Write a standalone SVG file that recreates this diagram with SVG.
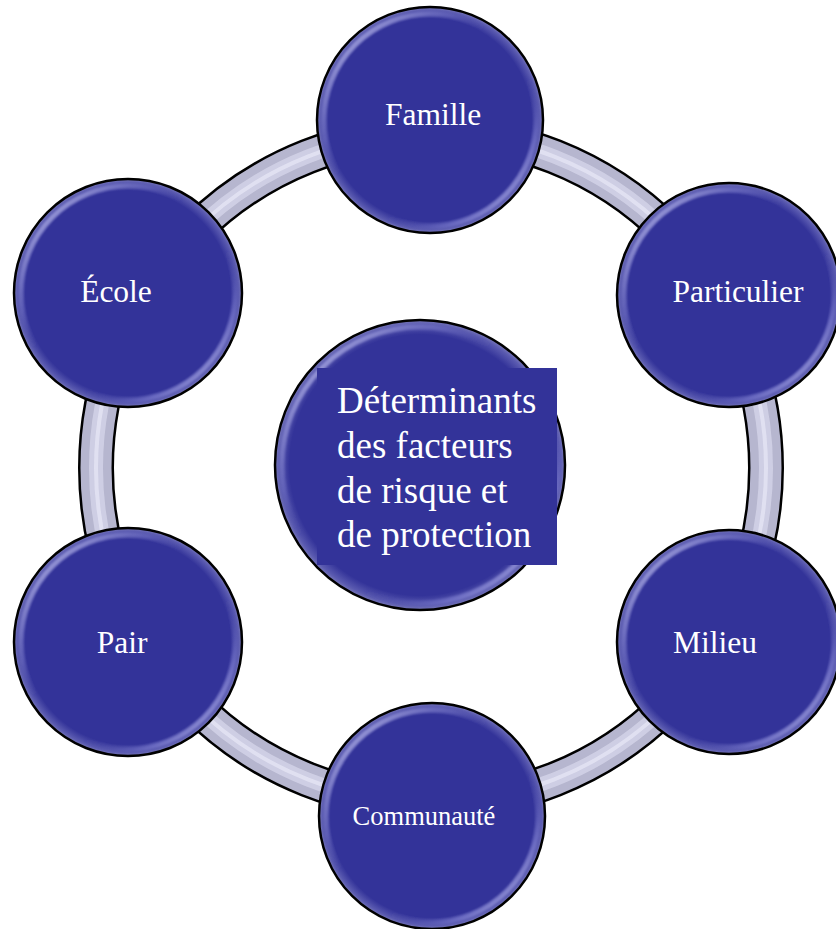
<svg xmlns="http://www.w3.org/2000/svg" width="836" height="929" viewBox="0 0 836 929">
  <defs>
    <linearGradient id="gloss" x1="0" y1="0" x2="1" y2="1">
      <stop offset="0" stop-color="#e0e0ff" stop-opacity="0.95"/>
      <stop offset="0.3" stop-color="#8080d0" stop-opacity="0.35"/>
      <stop offset="0.42" stop-color="#333399" stop-opacity="0"/>
      <stop offset="0.62" stop-color="#333399" stop-opacity="0"/>
      <stop offset="0.8" stop-color="#9090e0" stop-opacity="0.45"/>
      <stop offset="1" stop-color="#f0f0ff" stop-opacity="0.95"/>
    </linearGradient>
    <radialGradient id="face" cx="0.5" cy="0.5" r="0.5">
      <stop offset="0" stop-color="#333399"/>
      <stop offset="0.9" stop-color="#333399"/>
      <stop offset="0.97" stop-color="#5a5ab0"/>
      <stop offset="1" stop-color="#7878b8"/>
    </radialGradient>
    <filter id="soft" x="-10%" y="-10%" width="120%" height="120%">
      <feGaussianBlur stdDeviation="1.2"/>
    </filter>
  </defs>
  <style>
    .node { fill: url(#face); stroke: #000; stroke-width: 2.5; }
    .shine { fill: none; stroke: url(#gloss); stroke-width: 5; filter: url(#soft); }
    .lbl { font-family: "Liberation Serif", "Times New Roman", serif; fill: #fff; font-size: 31.5px; text-anchor: middle; }
    .ctr { font-family: "Liberation Serif", "Times New Roman", serif; fill: #fff; font-size: 37px; }
  </style>
  <rect width="836" height="929" fill="#fff"/>

  <g id="connectors">
    <circle cx="431" cy="468" r="335" fill="none" stroke="#000" stroke-width="36"/>
    <circle cx="431" cy="468" r="335" fill="none" stroke="#b6b6cf" stroke-width="31"/>
    <circle cx="431" cy="468" r="335" fill="none" stroke="#d4d4e8" stroke-width="14" opacity="0.8"/>
    <circle cx="431" cy="468" r="335" fill="none" stroke="#e8e8f6" stroke-width="4" opacity="0.7"/>
  </g>

  <g id="famille">
    <circle class="node" cx="430" cy="120" r="113"/>
    <circle class="shine" cx="430" cy="120" r="106"/>
    <text class="lbl" x="433" y="125">Famille</text>
  </g>
  <g id="particulier">
    <circle class="node" cx="729" cy="295" r="112"/>
    <circle class="shine" cx="729" cy="295" r="105"/>
    <text class="lbl" x="738" y="302">Particulier</text>
  </g>
  <g id="milieu">
    <circle class="node" cx="729" cy="642" r="112"/>
    <circle class="shine" cx="729" cy="642" r="105"/>
    <text class="lbl" x="715" y="653">Milieu</text>
  </g>
  <g id="communaute">
    <circle class="node" cx="432" cy="816" r="113"/>
    <circle class="shine" cx="432" cy="816" r="106"/>
    <text class="lbl" x="424" y="825" style="font-size:26.5px">Communauté</text>
  </g>
  <g id="pair">
    <circle class="node" cx="128" cy="642" r="114"/>
    <circle class="shine" cx="128" cy="642" r="107"/>
    <text class="lbl" x="122" y="653">Pair</text>
  </g>
  <g id="ecole">
    <circle class="node" cx="128" cy="293" r="114"/>
    <circle class="shine" cx="128" cy="293" r="107"/>
    <text class="lbl" x="116" y="302">École</text>
  </g>

  <g id="centre">
    <circle class="node" cx="420" cy="465" r="145"/>
    <circle class="shine" cx="420" cy="465" r="138"/>
    <rect x="317" y="368" width="240" height="197" fill="#333399"/>
    <text class="ctr" x="337" y="413">Déterminants</text>
    <text class="ctr" x="337" y="458">des facteurs</text>
    <text class="ctr" x="337" y="503">de risque et</text>
    <text class="ctr" x="337" y="547">de protection</text>
  </g>
</svg>
